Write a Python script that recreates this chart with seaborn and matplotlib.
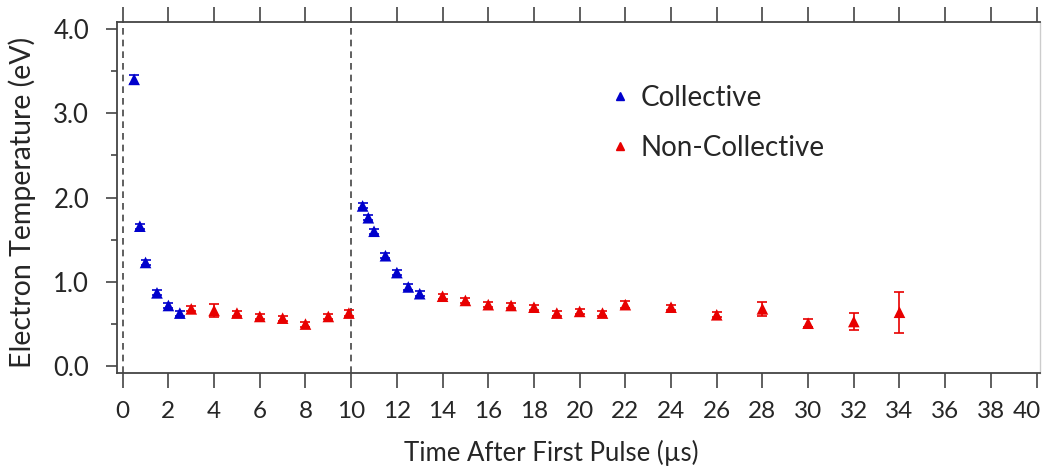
import numpy as np
import pandas as pd
import matplotlib
matplotlib.use("Agg")
import matplotlib.pyplot as plt
from matplotlib.ticker import MultipleLocator
from matplotlib.lines import Line2D
from matplotlib.transforms import ScaledTranslation
import seaborn as sns

# ---- data ----
collective_x = [0.5, 0.75, 1.0, 1.5, 2.0, 2.5, 10.5, 10.75, 11.0, 11.5, 12.0, 12.5, 13.0]
collective_y = [3.40, 1.66, 1.23, 0.87, 0.72, 0.63, 1.90, 1.76, 1.60, 1.31, 1.11, 0.94, 0.86]
collective_err = [0.05, 0.03, 0.03, 0.03, 0.03, 0.03, 0.03, 0.03, 0.03, 0.03, 0.03, 0.04, 0.03]

noncoll_x = [3, 4, 5, 6, 7, 8, 9, 9.9, 14, 15, 16, 17, 18, 19, 20, 21, 22, 24, 26, 28, 30, 32, 34]
noncoll_y = [0.68, 0.66, 0.63, 0.59, 0.57, 0.50, 0.59, 0.63, 0.83, 0.78, 0.73, 0.72, 0.70,
             0.63, 0.65, 0.63, 0.73, 0.70, 0.61, 0.68, 0.51, 0.53, 0.64]
noncoll_err = [0.03, 0.08, 0.03, 0.03, 0.03, 0.03, 0.03, 0.04, 0.03, 0.03, 0.03, 0.03, 0.03,
               0.03, 0.03, 0.03, 0.04, 0.03, 0.03, 0.08, 0.05, 0.10, 0.24]

pulse_times = [0, 10]
x_ticks = list(range(0, 41, 2))
y_ticks = [0.0, 1.0, 2.0, 3.0, 4.0]
series_names = ["Collective", "Non-Collective"]

# ---- style ----
sns.set_style("ticks")
plt.rcParams["font.family"] = ["Lato", "DejaVu Sans"]

BLUE = "#0000cc"
RED = "#e80000"
TXT = "#262626"
palette = {series_names[0]: BLUE, series_names[1]: RED}

df = pd.concat([
    pd.DataFrame({"t": collective_x, "T": collective_y, "err": collective_err, "kind": series_names[0]}),
    pd.DataFrame({"t": noncoll_x, "T": noncoll_y, "err": noncoll_err, "kind": series_names[1]}),
], ignore_index=True)

fig = plt.figure(figsize=(10.42, 4.72), dpi=100)
ax = fig.add_axes([117 / 1042, 99 / 472, (1040 - 117) / 1042, (373 - 22) / 472])

for x in pulse_times:
    ax.axvline(x, color="#444444", lw=1.2, linestyle=(0, (4, 3)), zorder=1)

for name, sub in df.groupby("kind"):
    ax.errorbar(sub["t"], sub["T"], yerr=sub["err"], fmt="none", ecolor=palette[name],
                elinewidth=1.2, capsize=3.3, capthick=1.2, zorder=2)

sns.scatterplot(data=df, x="t", y="T", hue="kind", palette=palette, marker="^",
                s=70, edgecolor="none", linewidth=0, legend=False, ax=ax, zorder=3)

ax.set_xlim(-0.25, 40.15)
ax.set_ylim(-0.08, 4.08)
ax.set_xticks(x_ticks)
ax.set_yticks(y_ticks)
ax.set_yticklabels([f"{v:.1f}" for v in y_ticks])
ax.yaxis.set_minor_locator(MultipleLocator(0.5))

ax.tick_params(axis="x", which="major", direction="out", length=11, width=1.2,
               color="#444444", labelsize=17.5, labelcolor=TXT, pad=9,
               top=True, bottom=True)
ax.tick_params(axis="y", which="major", direction="out", length=8, width=1.2,
               color="#444444", labelsize=18.5, labelcolor=TXT, pad=12)
ax.tick_params(axis="y", which="minor", direction="out", length=4.5, width=1.2,
               color="#444444")

# nudge the last x tick label so it stays inside the canvas
last = ax.get_xticklabels()[-1]
last.set_transform(last.get_transform() + ScaledTranslation(-10 / 100, 0, fig.dpi_scale_trans))

for side in ["left", "bottom", "top"]:
    ax.spines[side].set_color("#444444")
    ax.spines[side].set_linewidth(1.3)
ax.spines["right"].set_color("#cccccc")
ax.spines["right"].set_linewidth(1.0)

ax.set_xlabel("Time After First Pulse (µs)", fontsize=18.5, color=TXT)
ax.set_ylabel("Electron Temperature (eV)", fontsize=20.5, color=TXT)
ax.xaxis.set_label_coords(0.471, -0.19)
ax.yaxis.set_label_coords(-0.088, 0.485)

handles = [Line2D([], [], marker="^", linestyle="none", color=palette[n], markersize=6)
           for n in series_names]
ax.legend(handles, series_names, loc="upper left", bbox_to_anchor=(0.533, 0.82),
          frameon=False, fontsize=20, handlelength=0.8, handletextpad=0.35,
          labelspacing=0.85, borderaxespad=0, borderpad=0, labelcolor=TXT)

fig.savefig("out.png", dpi=100)
